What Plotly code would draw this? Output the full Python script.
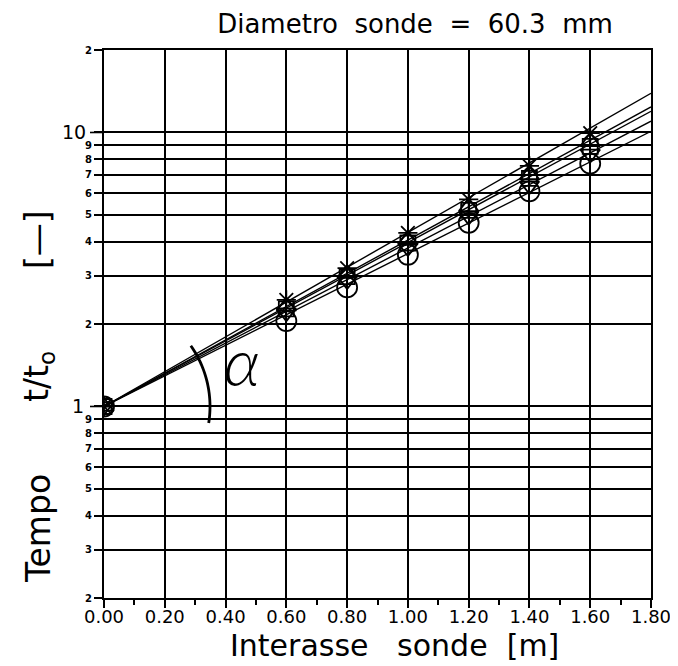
import numpy as np
import plotly.graph_objects as go

# ---------------- data ----------------
x_points = [0.0, 0.6, 0.8, 1.0, 1.2, 1.4, 1.6]
series_names = ["s1", "s2", "s3", "s4", "s5"]
series_symbols = ["asterisk-open", "triangle-up-open", "square-open", "triangle-down-open", "circle-open"]
s1 = [1.0, 2.45, 3.20, 4.30, 5.70, 7.55, 9.95]
s2 = [1.0, 2.32, 3.06, 4.05, 5.35, 7.00, 9.25]
s3 = [1.0, 2.27, 2.98, 3.95, 5.20, 6.80, 8.90]
s4 = [1.0, 2.20, 2.88, 3.80, 4.95, 6.40, 8.35]
s5 = [1.0, 2.05, 2.72, 3.58, 4.68, 6.10, 7.70]
series_values = [s1, s2, s3, s4, s5]

# regression lines: start at (0, 1) and end at the right border x = 1.8
line_x = [0.0, 1.8]
line_end_values = [13.9, 12.4, 11.95, 11.0, 10.1]

x_ticks = [0.0, 0.2, 0.4, 0.6, 0.8, 1.0, 1.2, 1.4, 1.6, 1.8]
y_ticks = [0.2, 0.3, 0.4, 0.5, 0.6, 0.7, 0.8, 0.9, 1, 2, 3, 4, 5, 6, 7, 8, 9, 10, 20]
y_ticktext = ["2", "3", "4", "5", "6", "7", "8", "9", "", "2", "3", "4", "5", "6", "7", "8", "9", "", "2"]
y_big_labels = ["1", "10"]
y_big_values = [1, 10]

NB = "\u00a0"
title_text = f"Diametro{NB} sonde{NB} ={NB} 60.3{NB} mm"
x_title = f"Interasse{NB*2} sonde{NB} [m]"
y_title_parts = ["Tempo", "t/t<sub>o</sub>", "[\u2014]"]
alpha_text = "<i>\u03b1</i>"

# ---------------- figure ----------------
W, H = 678, 666
ML, MR, MT, MB = 96, 35, 42, 76
PW, PH = W - ML - MR, H - MT - MB
Y0 = H - MB  # pixel row of the bottom border

def paper_x(px):
    return (px - ML) / PW

def paper_y(py):
    return (Y0 - py) / PH

fig = go.Figure()

for yend in line_end_values:
    fig.add_trace(go.Scatter(x=line_x, y=[1.0, yend], mode="lines",
                             line=dict(color="black", width=1.4),
                             showlegend=False, hoverinfo="skip"))

sizes = {"asterisk-open": 16, "triangle-up-open": 17, "square-open": 15,
         "triangle-down-open": 17, "circle-open": 20}
for name, sym, vals in zip(series_names, series_symbols, series_values):
    fig.add_trace(go.Scatter(x=x_points, y=vals, mode="markers", name=name,
                             marker=dict(symbol=sym, size=sizes[sym], color="black",
                                         line=dict(color="black", width=1.8)),
                             showlegend=False))

font_family = "DejaVu Sans"

fig.update_xaxes(range=[0, 1.8], tickvals=x_ticks, tickformat=".2f",
                 showgrid=True, gridcolor="black", gridwidth=1.6,
                 showline=True, linecolor="black", linewidth=2, mirror=True,
                 ticks="outside", ticklen=8, tickwidth=1.6, tickcolor="black",
                 minor=dict(dtick=0.1, ticks="outside", ticklen=5, tickwidth=1.6,
                            tickcolor="black", showgrid=False),
                 tickfont=dict(family=font_family, size=18, color="black"),
                 ticklabelstandoff=-7,
                 zeroline=False)

fig.update_yaxes(type="log", range=[np.log10(0.2), np.log10(20)],
                 tickvals=y_ticks, ticktext=y_ticktext,
                 showgrid=True, gridcolor="black", gridwidth=1.6,
                 showline=True, linecolor="black", linewidth=2, mirror=True,
                 ticks="outside", ticklen=8, tickwidth=1.6, tickcolor="black",
                 tickfont=dict(family=font_family, size=10, color="black", weight="bold"),
                 zeroline=False)

ylog0, ylog1 = np.log10(0.2), np.log10(20)

annotations = []
for lab, val, xr in zip(y_big_labels, y_big_values, [78, 80]):
    annotations.append(dict(text=lab, xref="paper", yref="y", x=paper_x(xr), y=np.log10(val),
                            xanchor="right", yanchor="middle", showarrow=False,
                            font=dict(family=font_family, size=19, color="black")))

# x-axis title
annotations.append(dict(text=x_title, xref="paper", yref="paper",
                        x=paper_x(386), y=paper_y(638), xanchor="center", yanchor="middle",
                        showarrow=False,
                        font=dict(family=font_family, size=30, color="black")))

# y-axis title: rotated words, spaced as in the reference
for part, py in zip(y_title_parts, [521, 369, 232]):
    annotations.append(dict(text=part, xref="paper", yref="paper",
                            x=paper_x(30), y=paper_y(py), xanchor="center", yanchor="middle",
                            textangle=-90, showarrow=False,
                            font=dict(family=font_family, size=33, color="black")))

# alpha label
annotations.append(dict(text=alpha_text, xref="paper", yref="paper",
                        x=paper_x(234), y=paper_y(352),
                        xanchor="center", yanchor="middle", showarrow=False,
                        font=dict(family="Lato, DejaVu Sans", size=66, color="black", weight=300)))

shapes = []
# longer ticks at 1 and 10
for val in y_big_values:
    fy = (np.log10(val) - ylog0) / (ylog1 - ylog0)
    shapes.append(dict(type="line", xref="paper", yref="paper", x0=paper_x(ML - 14), x1=0,
                       y0=fy, y1=fy, line=dict(color="black", width=1.6)))

# arc for angle alpha (circle in pixel space centred on the origin point)
fy1 = (np.log10(1) - ylog0) / (ylog1 - ylog0)
r = 106
angs = np.deg2rad(np.linspace(-9, 35, 40))
pts = [(r * np.cos(a) / PW, fy1 + r * np.sin(a) / PH) for a in angs]
path = "M " + " L ".join(f"{px:.5f},{py:.5f}" for px, py in pts)
shapes.append(dict(type="path", path=path, xref="paper", yref="paper",
                   line=dict(color="black", width=2.8)))

fig.update_layout(
    width=W, height=H,
    margin=dict(l=ML, r=MR, t=MT, b=MB),
    paper_bgcolor="white", plot_bgcolor="white",
    title=dict(text=title_text, x=407 / W, xanchor="center", xref="container",
               y=1 - 16 / H, yanchor="middle", yref="container",
               font=dict(family=font_family, size=26, color="black")),
    annotations=annotations,
    shapes=shapes,
)

fig.write_html("out.html")
